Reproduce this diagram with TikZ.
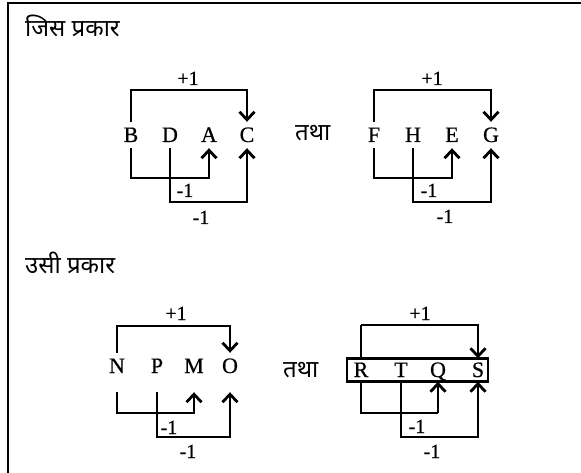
\documentclass[tikz,border=0pt]{standalone}
\usepackage{fontspec}
\setmainfont{Liberation Serif}
\newfontfamily\latf[FakeBold=0.6]{Liberation Serif}
\newfontfamily\hindi[Script=Devanagari]{Noto Sans}
\usetikzlibrary{arrows.meta}
\begin{document}
\begin{tikzpicture}[x=1pt,y=-1pt,
  ln/.style={line width=2.8pt},
  thinl/.style={line width=1.5pt},
  arr/.style={-{Straight Barb[length=8pt,width=15pt,line width=2.8pt]}},
  let/.style={font=\latf\fontsize{22}{22}\selectfont, anchor=base, text height=14pt, text depth=0pt, inner xsep=0pt, inner ysep=6pt},
  letlow/.style={let, text depth=13pt},
  letbox/.style={let, inner ysep=4.5pt},
  num/.style={font=\latf\fontsize{20}{20}\selectfont, anchor=base, inner sep=0pt},
  hin/.style={font=\hindi\fontsize{24}{28}\selectfont, anchor=base west, inner sep=0pt}]
\useasboundingbox (0,0) rectangle (581,473);
\draw[line width=2.4pt] (8,473) -- (8,3) -- (581,3);

% headings
\node[hin] (h1) at (25,37) {जिस प्रकार};
\node[hin] (h2) at (25,273) {उसी प्रकार};

% ---- diagram 1
\node[let] (B) at (131,142) {B};
\node[let] (D) at (170,142) {D};
\node[let] (A) at (209,142) {A};
\node[let] (C) at (247,142) {C};
\coordinate (t1) at (0,90);
\coordinate (u1) at (0,178);
\coordinate (v1) at (0,202);
\draw[ln,arr] (B.north) -- (B.north|-t1) -- (C.north|-t1) -- (C.north);
\draw[ln,arr] (B.south) -- (B.south|-u1) -- (A.south|-u1) -- (A.south);
\draw[ln,arr] (D.south) -- (D.south|-v1) -- (C.south|-v1) -- (C.south);
\node[num] (p1) at (188,85) {+1};
\node[num] (q1) at (185,197) {-1};
\node[num] (r1) at (201,224) {-1};

\node[hin] (tatha1) at (295,141) {तथा};

% ---- diagram 2
\node[let] (F) at (374,142) {F};
\node[let] (H) at (413,142) {H};
\node[let] (E) at (452,142) {E};
\node[let] (G) at (491,142) {G};
\draw[ln,arr] (F.north) -- (F.north|-t1) -- (G.north|-t1) -- (G.north);
\draw[ln,arr] (F.south) -- (F.south|-u1) -- (E.south|-u1) -- (E.south);
\draw[ln,arr] (H.south) -- (H.south|-v1) -- (G.south|-v1) -- (G.south);
\node[num] (p2) at (432,85) {+1};
\node[num] (q2) at (429,197) {-1};
\node[num] (r2) at (445,223) {-1};

% ---- diagram 3
\node[letlow] (N) at (117,373) {N};
\node[letlow] (P) at (157,373) {P};
\node[letlow] (M) at (194,373) {M};
\node[letlow] (O) at (230,373) {O};
\coordinate (t3) at (0,326);
\coordinate (u3) at (0,413);
\coordinate (v3) at (0,437);
\draw[ln,arr] (N.north) -- (N.north|-t3) -- (O.north|-t3) -- (O.north);
\draw[ln,arr] (N.south) -- (N.south|-u3) -- (M.south|-u3) -- (M.south);
\draw[ln,arr] (P.south) -- (P.south|-v3) -- (O.south|-v3) -- (O.south);
\node[num] (p3) at (176,320) {+1};
\node[num] (q3) at (169,434) {-1};
\node[num] (r3) at (188,458) {-1};

\node[hin] (tatha2) at (283,377) {तथा};

% ---- diagram 4
\node[letbox] (R) at (361,377) {R};
\node[letbox] (T) at (401,377) {T};
\node[letbox] (Q) at (438,377) {Q};
\node[letbox] (S) at (478,377) {S};
\draw[ln] ([xshift=-14pt]R.north) rectangle ([xshift=10pt]S.south);
\coordinate (t4) at (0,325);
\coordinate (t4m) at (420,325);
\draw[ln] (R.north) -- (R.north|-t4);
\draw[thinl] (R.north|-t4) -- (t4m);
\draw[ln,arr] (t4m) -| (S.north);
\draw[thinl] (R.south) -- (R.south|-u3) -- (Q.south|-u3);
\draw[ln,arr] (Q.south|-u3) -- (Q.south);
\draw[ln,arr] (T.south) -- (T.south|-v3) -- (S.south|-v3) -- (S.south);
\node[num] (p4) at (420,320) {+1};
\node[num] (q4) at (417,433) {-1};
\node[num] (r4) at (432,458) {-1};
\end{tikzpicture}
\end{document}
